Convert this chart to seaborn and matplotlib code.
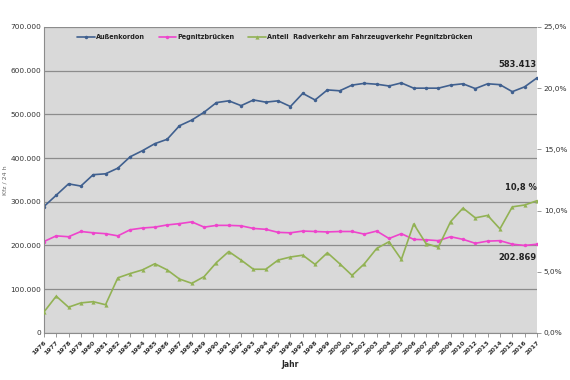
import numpy as np
import pandas as pd
import matplotlib
matplotlib.use("Agg")
import matplotlib.pyplot as plt
import seaborn as sns
from matplotlib.ticker import FuncFormatter

years = [str(y) for y in range(1976, 2011)] + [str(y) for y in range(2012, 2018)]

aussenkordon = [289000, 315000, 341000, 336000, 362000, 364000, 377000, 403000, 417000, 433000,
                443000, 474000, 487000, 505000, 527000, 531000, 520000, 533000, 528000, 531000,
                518000, 548000, 533000, 556000, 554000, 567000, 571000, 569000, 565000, 572000,
                560000, 560000, 560000, 567000, 570000, 559000, 570000, 568000, 552000, 563000,
                583413]

pegnitz = [209000, 222000, 220000, 232000, 229000, 227000, 222000, 236000, 240000, 242000,
           247000, 250000, 254000, 242000, 246000, 246000, 245000, 239000, 237000, 230000,
           229000, 233000, 232000, 231000, 232000, 232000, 226000, 233000, 216000, 227000,
           214000, 213000, 211000, 220000, 214000, 205000, 210000, 211000, 203000, 200000,
           202869]

anteil_rad = [1.7, 3.0, 2.1, 2.45, 2.55, 2.3, 4.5, 4.85, 5.15, 5.65,
              5.15, 4.4, 4.05, 4.6, 5.75, 6.65, 5.95, 5.2, 5.2, 5.95,
              6.2, 6.35, 5.6, 6.55, 5.65, 4.7, 5.65, 6.9, 7.45, 6.0,
              8.9, 7.3, 7.0, 9.1, 10.2, 9.4, 9.6, 8.5, 10.3, 10.45,
              10.8]

labels = ["Außenkordon", "Pegnitzbrücken", "Anteil  Radverkehr am Fahrzeugverkehr Pegnitzbrücken"]
colors = ["#40608f", "#ee44cc", "#92b254"]


def main():
    df = pd.DataFrame({
        "pos": np.arange(len(years)),
        "Jahr": years,
        "aussen": aussenkordon,
        "pegnitz": pegnitz,
        "anteil": anteil_rad,
    })

    sns.set_style("white")
    plt.rcParams["font.family"] = ["DejaVu Sans"]

    fig = plt.figure(figsize=(5.7, 3.8), dpi=100)
    ax = fig.add_axes([0.077, 0.124, 0.865, 0.805])
    ax.set_facecolor("#d9d9d9")

    sns.lineplot(data=df, x="pos", y="aussen", ax=ax, color=colors[0], lw=1.2,
                 marker="o", markersize=2.5, markeredgewidth=0, label=labels[0], legend=False)
    sns.lineplot(data=df, x="pos", y="pegnitz", ax=ax, color=colors[1], lw=1.2,
                 marker="o", markersize=2.5, markeredgewidth=0, label=labels[1], legend=False)

    ax2 = ax.twinx()
    sns.lineplot(data=df, x="pos", y="anteil", ax=ax2, color=colors[2], lw=1.2,
                 marker="^", markersize=3, markeredgewidth=0, label=labels[2], legend=False)

    ax.set_xlim(0, len(years) - 1)
    ax.set_ylim(0, 700000)
    ax2.set_ylim(0, 25)
    ax.set_yticks(np.arange(0, 700001, 100000))
    ax2.set_yticks(np.arange(0, 25.1, 5))
    ax.yaxis.set_major_formatter(FuncFormatter(lambda v, p: f"{int(v):,}".replace(",", ".")))
    ax2.yaxis.set_major_formatter(FuncFormatter(lambda v, p: f"{v:.1f}%".replace(".", ",")))

    ax.set_xticks(df["pos"])
    ax.set_xticklabels(years, rotation=45, ha="right", rotation_mode="anchor",
                       fontsize=4.6, fontweight="bold", color="#333333")
    ax.tick_params(axis="x", length=3, width=0.6, color="#888888", pad=2, direction="out", bottom=True)
    ax.tick_params(axis="y", labelsize=5.3, length=0, pad=2, labelcolor="#333333")
    ax2.tick_params(axis="y", labelsize=5.3, length=3, width=0.6, color="#888888", pad=2,
                    labelcolor="#333333", right=True)

    ax.grid(axis="y", color="#8c8c8c", lw=0.9)
    ax.set_axisbelow(True)
    for a in (ax, ax2):
        for s in ("top", "right"):
            a.spines[s].set_visible(False)
        a.spines["left"].set_color("#8c8c8c")
        a.spines["bottom"].set_color("#8c8c8c")
        a.spines["left"].set_linewidth(0.8)
        a.spines["bottom"].set_linewidth(0.8)
    ax2.spines["left"].set_visible(False)
    ax2.spines["bottom"].set_visible(False)
    ax2.set_ylabel("")

    ax.set_xlabel("Jahr", fontsize=5.5, fontweight="bold", labelpad=3)
    ax.set_ylabel("Kfz / 24 h", fontsize=4.5, color="#666666", labelpad=2)

    # Datenbeschriftungen am Ende
    last = len(years) - 1
    ax.annotate("583.413", xy=(last, aussenkordon[-1]), xytext=(0, 8), textcoords="offset points",
                ha="right", fontsize=6, fontweight="bold", color="#222222")
    ax.annotate("202.869", xy=(last, pegnitz[-1]), xytext=(0, -11), textcoords="offset points",
                ha="right", fontsize=6, fontweight="bold", color="#222222")
    ax2.annotate("10,8 %", xy=(last, anteil_rad[-1]), xytext=(0, 8), textcoords="offset points",
                 ha="right", fontsize=6, fontweight="bold", color="#222222")

    h1, l1 = ax.get_legend_handles_labels()
    h2, l2 = ax2.get_legend_handles_labels()
    leg = ax2.legend(h1 + h2, l1 + l2, loc="upper left", bbox_to_anchor=(0.055, 0.995), ncol=3,
                     frameon=False, fontsize=4.7, handlelength=2.7, columnspacing=2.1, handletextpad=0.2)
    for t in leg.get_texts():
        t.set_fontweight("bold")
        t.set_color("#222222")

    fig.savefig("out.png", dpi=100, facecolor="white")


if __name__ == '__main__':
    main()
